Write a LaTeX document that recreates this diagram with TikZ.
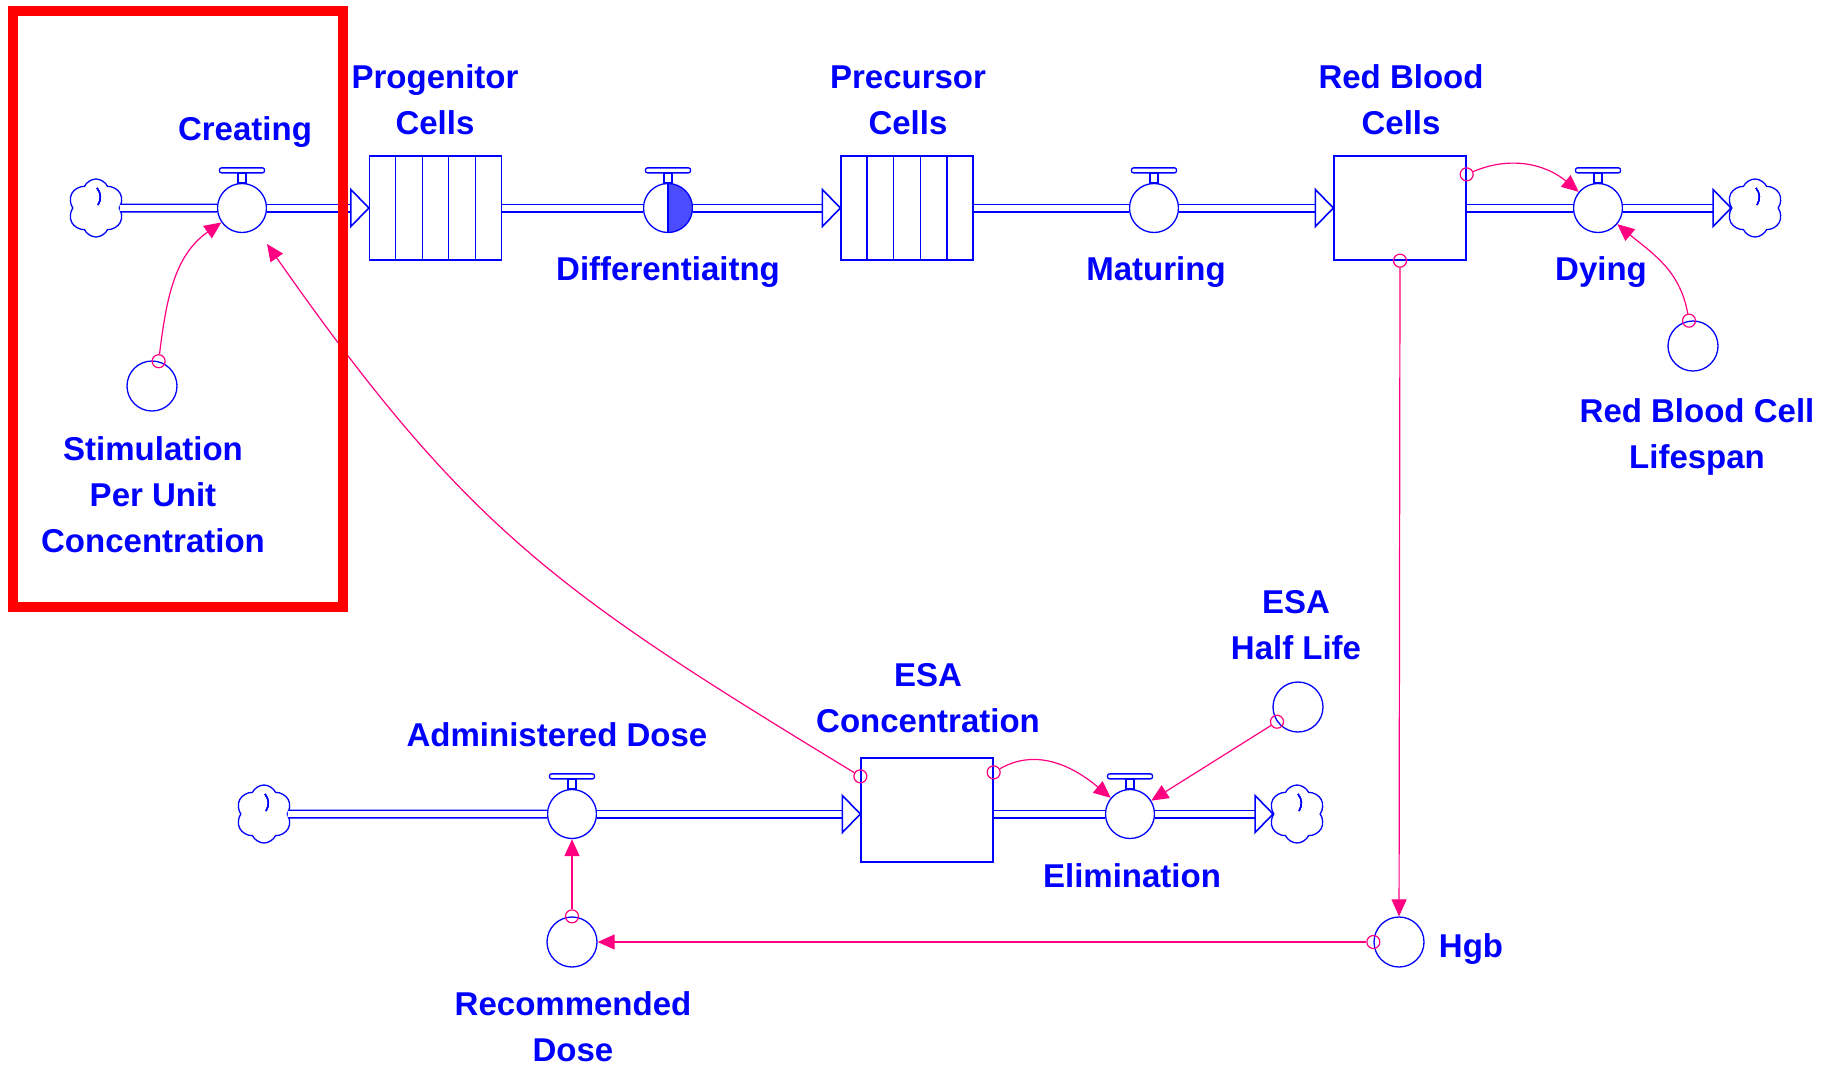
\documentclass[tikz,border=0pt]{standalone}
\usepackage{fontspec}
\setmainfont{Liberation Sans}
\usetikzlibrary{arrows.meta,shapes.symbols,calc}

\definecolor{sfblue}{RGB}{0,0,255}
\definecolor{linkpink}{RGB}{255,0,128}
\definecolor{markred}{RGB}{255,0,0}

\tikzset{
  sfline/.style={draw=sfblue, line width=0.65pt},
  stock/.style={sfline, rectangle, fill=white, minimum width=66pt, minimum height=52pt, inner sep=0pt},
  valve/.style={sfline, circle, fill=white, minimum size=24.5pt, inner sep=0pt},
  valvehalf/.style={valve, path picture={
      \fill[sfblue!70] (path picture bounding box.north) rectangle (path picture bounding box.south east);
      \draw[sfline] (path picture bounding box.north) -- (path picture bounding box.south);}},
  aux/.style={sfline, circle, fill=white, minimum size=25pt, inner sep=0pt},
  sink/.style={sfline, cloud, cloud puffs=6, cloud puff arc=130, cloud ignores aspect,
    minimum width=28pt, minimum height=29pt, inner sep=0pt, fill=white, path picture={
      \begin{scope}[shift={(path picture bounding box.center)}]
        \foreach \a in {0,90,180,270}
          {\draw[sfline, rotate=\a] (1pt,1.5pt) to[bend right=35] (0.5pt,10pt);}
      \end{scope}}},
  pipe/.style={draw=sfblue, line width=0.8pt, double=white, double distance=2.9pt},
  link/.style={draw=linkpink, line width=0.6pt, -{Triangle[length=8.5pt,width=7.5pt]}},
  linkdot/.style={draw=linkpink, line width=0.6pt, circle, minimum size=6.5pt, inner sep=0pt},
  lbl/.style={text=sfblue, font=\fontsize{16.5}{23}\selectfont\bfseries, align=center, anchor=base, inner sep=0pt},
}

% open head where a flow enters a stock or a sink
\newcommand{\flowtip}[1]{\draw[sfline, line width=0.8pt, fill=white] (#1) -- ++(-9pt,9.25pt) -- ++(0,-18.5pt) -- cycle;}
% handle on top of a flow valve
\newcommand{\valvehandle}[1]{%
  \draw[sfline] ([xshift=-2pt]#1.north) rectangle ([xshift=2pt,yshift=5pt]#1.north);
  \draw[sfline, rounded corners=1pt] ([xshift=-11.25pt,yshift=5pt]#1.north) rectangle ([xshift=11.25pt,yshift=7.5pt]#1.north);}

\begin{document}
\begin{tikzpicture}[x=0.5pt, y=-0.5pt]
    \useasboundingbox (0,0) rectangle (1835,1066);

    %red blood cell chain
    \node[sink] (srcTop) at (96,208) {};
    \node[valve] (creating) at (242,208) {};
    \node[stock] (prog) at (435.5,208) {};
    \node[valvehalf] (diff) at (668,208) {};
    \node[stock] (prec) at (907,208) {};
    \node[valve] (mat) at (1154,208) {};
    \node[stock] (rbc) at (1400,208) {};
    \node[valve] (dying) at (1598,208) {};
    \node[sink] (sinkTop) at (1755,208) {};

    %dose chain
    \node[sink] (srcDose) at (264,814) {};
    \node[valve] (admin) at (572,814) {};
    \node[stock] (esa) at (927,810) {};
    \node[valve] (elim) at (1130,814) {};
    \node[sink] (sinkDose) at (1297,814) {};

    %converters
    \node[aux] (stim) at (152,386) {};
    \node[aux] (life) at (1693,346) {};
    \node[aux] (half) at (1298,707) {};
    \node[aux] (rec) at (572,942) {};
    \node[aux] (hgb) at (1399,942) {};

    %conveyor slats
    \foreach \s in {prog,prec}
      \foreach \i in {1,...,4}
        {\draw[sfline] ($(\s.north west)!\i/5!(\s.north east)$) -- ($(\s.south west)!\i/5!(\s.south east)$);}

    %valve handles
    \foreach \v in {creating,diff,mat,dying,admin,elim}
      {\valvehandle{\v}}

    %flows
    \draw[pipe] (srcTop) -- (creating);
    \draw[pipe, shorten >=9pt] (creating) -- (prog.west);
    \flowtip{prog.west}
    \draw[pipe] (prog) -- (diff);
    \draw[pipe, shorten >=9pt] (diff) -- (prec.west);
    \flowtip{prec.west}
    \draw[pipe] (prec) -- (mat);
    \draw[pipe, shorten >=9pt] (mat) -- (rbc.west);
    \flowtip{rbc.west}
    \draw[pipe] (rbc) -- (dying);
    \draw[pipe, shorten >=9pt] (dying) -- (sinkTop.west);
    \flowtip{sinkTop.west}

    \draw[pipe] (srcDose) -- (admin);
    \draw[pipe, shorten >=9pt] (admin) -- (admin -| esa.west);
    \flowtip{admin -| esa.west}
    \draw[pipe] (esa.east |- elim) -- (elim);
    \draw[pipe, shorten >=9pt] (elim) -- (sinkDose.west);
    \flowtip{sinkDose.west}

    %link origins
    \node[linkdot] (stimDot) at (stim.75) {};
    \node[linkdot] (esaDotL) at ([yshift=-9.5pt]esa.north west) {};
    \node[linkdot] (esaDotR) at ([yshift=-7.5pt]esa.north east) {};
    \node[linkdot] (rbcDotR) at ([yshift=-9.5pt]rbc.north east) {};
    \node[linkdot] (rbcDotB) at (rbc.south) {};
    \node[linkdot] (lifeDot) at (life.99) {};
    \node[linkdot] (halfDot) at (half.215) {};
    \node[linkdot] (hgbDot) at (hgb.west) {};
    \node[linkdot] (recDot) at (rec.north) {};
    \coordinate (creatingIn) at ([xshift=12.5pt,yshift=-18pt]creating.center);

    %links
    \draw[link] (stimDot) to[out=83, in=215] (creating);
    \draw[link] (esaDotL) .. controls (559,593) and (468,531) .. (creatingIn);
    \draw[link] (rbcDotR) to[out=23, in=140] (dying);
    \draw[link] (lifeDot) to[out=100, in=-40] (dying);
    \draw[link] (esaDotR) to[out=30, in=140] (elim);
    \draw[link] (halfDot) -- (elim);
    \draw[link] (rbcDotB) -- (hgb);
    \draw[link] (hgbDot) -- (rec);
    \draw[link] (recDot) -- (admin);

    %labels (base = last line)
    \node[lbl] (creatingLbl) at (245,140) {Creating};
    \node[lbl] (progLbl) at (435,134) {Progenitor\\Cells};
    \node[lbl] (diffLbl) at (668,280) {Differentiaitng};
    \node[lbl] (precLbl) at (908,134) {Precursor\\Cells};
    \node[lbl] (matLbl) at (1156,280) {Maturing};
    \node[lbl] (rbcLbl) at (1401,134) {Red Blood\\Cells};
    \node[lbl] (dyingLbl) at (1601,280) {Dying};
    \node[lbl] (lifeLbl) at (1697,468) {Red Blood Cell\\Lifespan};
    \node[lbl] (stimLbl) at (153,552) {Stimulation\\Per Unit\\Concentration};
    \node[lbl] (adminLbl) at (557,746) {Administered Dose};
    \node[lbl] (esaLbl) at (928,732) {ESA\\Concentration};
    \node[lbl] (elimLbl) at (1132,887) {Elimination};
    \node[lbl] (halfLbl) at (1296,659) {ESA\\Half Life};
    \node[lbl] (recLbl) at (573,1061) {Recommended\\Dose};
    \node[lbl] (hgbLbl) at (1471,957) {Hgb};

    %highlight
    \draw[markred, line width=5pt] (13,11) rectangle (343,607);
\end{tikzpicture}
\end{document}
